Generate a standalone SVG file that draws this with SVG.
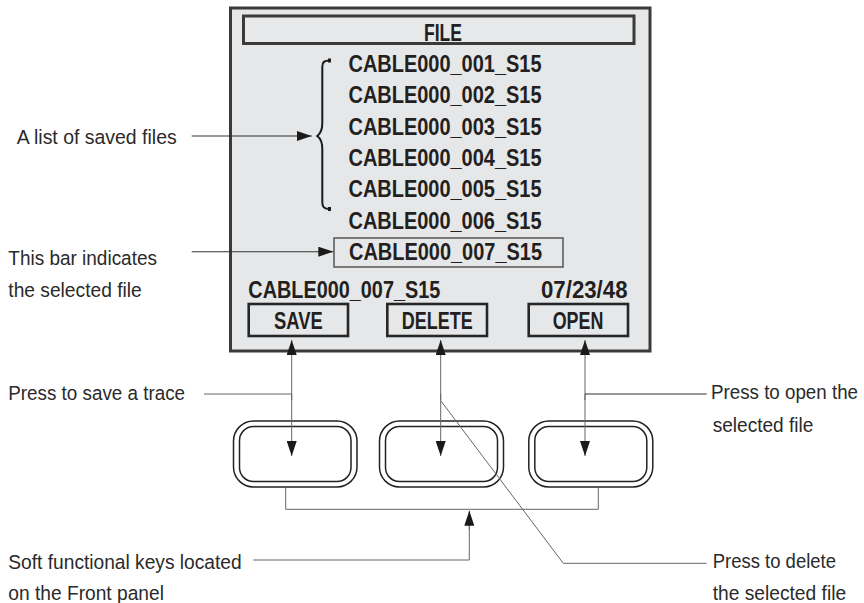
<svg xmlns="http://www.w3.org/2000/svg" width="864" height="603" viewBox="0 0 864 603">
<style>
.lbl{font-family:"Liberation Sans",Arial,sans-serif;font-size:20.5px;fill:#2a2a2a;}
.scr{font-family:"Liberation Sans",Arial,sans-serif;font-size:23.8px;font-weight:bold;fill:#231f20;}
.lead{fill:none;stroke:#333;stroke-width:1.1;}
.thin{fill:none;stroke:#666;stroke-width:1;}
.btn{fill:none;stroke:#262626;stroke-width:2.6;}
.key{fill:#fff;stroke:#222;stroke-width:1.5;}
.keyin{fill:none;stroke:#222;stroke-width:1.5;}
</style>
<defs>
<marker id="ah" markerUnits="userSpaceOnUse" markerWidth="15" markerHeight="10" refX="15" refY="5" orient="auto">
<path d="M0,0 L15,5 L0,10 z" fill="#1a1a1a"/>
</marker>
</defs>
<rect width="864" height="603" fill="#fff"/>

<g id="screen">
<rect x="230.5" y="8" width="419.5" height="343" fill="#e6e7e8" stroke="#3a3a3a" stroke-width="3"/>
<rect x="243.5" y="16" width="390.5" height="27.5" fill="#e8e9ea" stroke="#3a3a3a" stroke-width="3"/>
<text class="scr" x="424" y="40.5" textLength="38" lengthAdjust="spacingAndGlyphs">FILE</text>
</g>

<g id="file-list">
<text class="scr" x="348.5" y="72" textLength="193" lengthAdjust="spacingAndGlyphs">CABLE000_001_S15</text>
<text class="scr" x="348.5" y="103.3" textLength="193" lengthAdjust="spacingAndGlyphs">CABLE000_002_S15</text>
<text class="scr" x="348.5" y="134.6" textLength="193" lengthAdjust="spacingAndGlyphs">CABLE000_003_S15</text>
<text class="scr" x="348.5" y="165.9" textLength="193" lengthAdjust="spacingAndGlyphs">CABLE000_004_S15</text>
<text class="scr" x="348.5" y="197.2" textLength="193" lengthAdjust="spacingAndGlyphs">CABLE000_005_S15</text>
<text class="scr" x="348.5" y="228.5" textLength="193" lengthAdjust="spacingAndGlyphs">CABLE000_006_S15</text>
<path d="M330,60.5 C324,60.5 322.3,62 322.3,67 V123 C322.3,130 320,134 317.3,136 C320,138 322.3,142 322.3,149 V202 C322.3,207 324,209 330,209" fill="none" stroke="#1a1a1a" stroke-width="2"/>
<path d="M328,58.5 h3 v4 h-3 z M328,207 h3 v4 h-3 z" fill="#1a1a1a"/>
</g>

<g id="selected-bar">
<rect x="334" y="238" width="229" height="29" fill="none" stroke="#555" stroke-width="1.5"/>
<text class="scr" x="349" y="259.8" textLength="193" lengthAdjust="spacingAndGlyphs">CABLE000_007_S15</text>
</g>

<g id="status">
<text class="scr" x="248.3" y="298" textLength="192" lengthAdjust="spacingAndGlyphs">CABLE000_007_S15</text>
<text class="scr" x="541" y="298" textLength="86.5" lengthAdjust="spacingAndGlyphs">07/23/48</text>
</g>

<g id="btn-save">
<rect class="btn" x="248.7" y="304" width="99.3" height="32"/>
<text class="scr" x="274" y="329.3" textLength="48.7" lengthAdjust="spacingAndGlyphs">SAVE</text>
</g>
<g id="btn-delete">
<rect class="btn" x="387.3" y="304" width="99.7" height="32"/>
<text class="scr" x="401.7" y="329.3" textLength="71" lengthAdjust="spacingAndGlyphs">DELETE</text>
</g>
<g id="btn-open">
<rect class="btn" x="528.7" y="304" width="99.3" height="32"/>
<text class="scr" x="552.7" y="329.3" textLength="50.7" lengthAdjust="spacingAndGlyphs">OPEN</text>
</g>

<g id="key1">
<rect class="key" x="233.5" y="421" width="123.5" height="66" rx="20"/>
<rect class="keyin" x="239.5" y="426.5" width="111.5" height="55" rx="14"/>
</g>
<g id="key2">
<rect class="key" x="379.5" y="421" width="124" height="66" rx="20"/>
<rect class="keyin" x="385.5" y="426.5" width="112" height="55" rx="14"/>
</g>
<g id="key3">
<rect class="key" x="528.8" y="421" width="124" height="66" rx="20"/>
<rect class="keyin" x="534.8" y="426.5" width="112" height="55" rx="14"/>
</g>

<g id="connectors">
<path class="lead" d="M191.7,136 H311.7" marker-end="url(#ah)"/>
<path class="lead" d="M191.7,251.7 H333.3" marker-end="url(#ah)"/>
<path class="thin" d="M291.7,400 V340" marker-end="url(#ah)"/>
<path class="thin" d="M291.7,394 V456" marker-end="url(#ah)"/>
<path class="thin" d="M440.7,400 V340" marker-end="url(#ah)"/>
<path class="thin" d="M440.7,394 V456" marker-end="url(#ah)"/>
<path class="thin" d="M585,400 V340" marker-end="url(#ah)"/>
<path class="thin" d="M585,394 V456" marker-end="url(#ah)"/>
<path class="thin" d="M204,394 H291.7"/>
<path class="lead" d="M585,394 H706.7"/>
<path class="thin" d="M285.7,487.5 V509.3 H598.3 V487.5"/>
<path class="thin" d="M253.3,560 H469.3 V526"/>
<path class="thin" d="M469.3,530 V510.7" marker-end="url(#ah)"/>
<path class="thin" d="M441,401 L563.3,563.3 H706.5"/>
</g>

<g id="labels">
<text class="lbl" x="16.7" y="144" textLength="160" lengthAdjust="spacingAndGlyphs">A list of saved files</text>
<text class="lbl" x="8.3" y="265" textLength="148.7" lengthAdjust="spacingAndGlyphs">This bar indicates</text>
<text class="lbl" x="8.3" y="296.7" textLength="133.4" lengthAdjust="spacingAndGlyphs">the selected file</text>
<text class="lbl" x="8.3" y="400" textLength="176.7" lengthAdjust="spacingAndGlyphs">Press to save a trace</text>
<text class="lbl" x="8.3" y="569" textLength="233.4" lengthAdjust="spacingAndGlyphs">Soft functional keys located</text>
<text class="lbl" x="8.3" y="599.5" textLength="155.6" lengthAdjust="spacingAndGlyphs">on the Front panel</text>
<text class="lbl" x="711" y="399" textLength="147" lengthAdjust="spacingAndGlyphs" style="font-size:19.5px">Press to open the</text>
<text class="lbl" x="712.7" y="432" textLength="100.6" lengthAdjust="spacingAndGlyphs">selected file</text>
<text class="lbl" x="712.7" y="568.3" textLength="123.3" lengthAdjust="spacingAndGlyphs">Press to delete</text>
<text class="lbl" x="712.7" y="599.5" textLength="133.4" lengthAdjust="spacingAndGlyphs">the selected file</text>
</g>
</svg>
